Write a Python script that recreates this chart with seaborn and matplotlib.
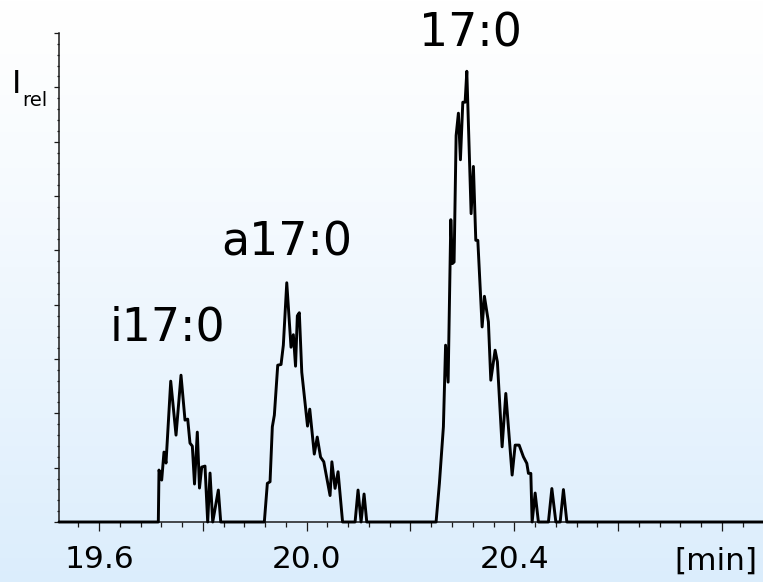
import numpy as np
import pandas as pd
import matplotlib
matplotlib.use("Agg")
import matplotlib.pyplot as plt
from matplotlib.ticker import FixedLocator, MultipleLocator, NullFormatter
import seaborn as sns

# Retention time [min] and relative intensity of the chromatogram trace
time_min = [
    19.523, 19.7143, 19.7156, 19.7208, 19.7252, 19.7291, 19.7382, 19.7484, 19.7580,
    19.7657, 19.7709, 19.7753, 19.7798, 19.7840, 19.7894, 19.7936, 19.7979, 19.8042,
    19.8094, 19.8139, 19.8191, 19.8299, 19.8345,
    19.9185, 19.9243, 19.9295, 19.9339, 19.9378, 19.9443, 19.9507, 19.9551, 19.9617,
    19.9699, 19.9744, 19.9786, 19.9821, 19.9859, 19.9906, 20.0017, 20.0060, 20.0147,
    20.0204, 20.0268, 20.0330, 20.0451, 20.0486, 20.0547, 20.0605, 20.0692, 20.0933,
    20.0990, 20.1048, 20.1106, 20.1158,
    20.2493, 20.2557, 20.2634, 20.2676, 20.2725, 20.2777, 20.2807, 20.2840, 20.2879,
    20.2923, 20.2962, 20.3008, 20.3052, 20.3085, 20.3168, 20.3212, 20.3258, 20.3297,
    20.3380, 20.3424, 20.3501, 20.3547, 20.3630, 20.3674, 20.3765, 20.3836, 20.3958,
    20.4016, 20.4093, 20.4175, 20.4241, 20.4272, 20.4318, 20.4343, 20.4401, 20.4464,
    20.4657, 20.4723, 20.4800, 20.4883, 20.4946, 20.5012, 20.879,
]
intensity = [
    0.0, 0.0, 0.956, 0.772, 1.287, 1.085, 2.592, 1.599, 2.702,
    1.875, 1.893, 1.452, 1.397, 0.699, 1.654, 0.625, 1.011, 1.029,
    0.0, 0.901, 0.0, 0.588, 0.0,
    0.0, 0.711, 0.741, 1.752, 1.967, 2.886, 2.899, 3.254, 4.403,
    3.217, 3.447, 2.868, 3.796, 3.851, 2.757, 1.765, 2.077, 1.250,
    1.563, 1.195, 1.108, 0.487, 1.108, 0.619, 0.925, 0.0, 0.0,
    0.588, 0.0, 0.515, 0.0,
    0.0, 0.711, 1.752, 3.254, 2.574, 5.564, 4.756, 4.785, 7.114,
    7.524, 6.667, 7.726, 7.726, 8.296, 5.675, 6.544, 5.184, 5.184,
    3.590, 4.154, 3.682, 2.610, 3.162, 2.947, 1.384, 2.366, 0.864,
    1.415, 1.415, 1.200, 1.079, 0.895, 0.895, 0.0, 0.533, 0.0,
    0.0, 0.616, 0.0, 0.0, 0.597, 0.0, 0.0,
]

# Peak annotations: name, retention time, label height
peak_names = ["i17:0", "a17:0", "17:0"]
peak_times = [19.731, 19.9622, 20.3148]
peak_label_y = [3.34, 4.91, 8.75]

# Axis ticks
x_major = [19.6, 19.8, 20.0, 20.2, 20.4, 20.6, 20.8]
x_major_labels = ["19.6", "", "20.0", "", "20.4", "", ""]
x_unit_label = "[min]"
y_label_main = "I"
y_label_sub = "rel"
y_label_level = 8.0

df = pd.DataFrame({"time": time_min, "intensity": intensity})

sns.set_theme(style="white")
plt.rcParams["font.family"] = ["DejaVu Sans"]

W, H, DPI = 763, 582, 100
fig = plt.figure(figsize=(W / DPI, H / DPI), dpi=DPI)

# Soft vertical gradient behind everything
bg = fig.add_axes([0, 0, 1, 1], zorder=-10)
top_c = np.array([1.0, 1.0, 1.0])
bot_c = np.array([0.86, 0.93, 0.99])
ramp = np.linspace(0, 1, 256) ** 1.2
grad = (top_c[None, :] * (1 - ramp[:, None]) + bot_c[None, :] * ramp[:, None])[:, None, :]
bg.imshow(grad, aspect="auto", extent=[0, 1, 0, 1], origin="upper")
bg.set_axis_off()

ax = fig.add_axes([59 / W, 60 / H, 1 - 59 / W, (522 - 33) / H])
ax.set_facecolor("none")

sns.lineplot(data=df, x="time", y="intensity", ax=ax, color="black",
             linewidth=2.1, estimator=None, sort=False, clip_on=False, zorder=3)

ax.set_xlim(19.523, 20.879)
ax.set_ylim(0, 9.0)
ax.set_xlabel("")
ax.set_ylabel("")

for side in ("top", "right"):
    ax.spines[side].set_visible(False)
for side in ("left", "bottom"):
    ax.spines[side].set_color("#1a1a1a")
    ax.spines[side].set_linewidth(1.1)

ax.xaxis.set_major_locator(FixedLocator(x_major))
ax.set_xticklabels(x_major_labels)
ax.xaxis.set_minor_locator(MultipleLocator(0.04))
ax.tick_params(axis="x", which="major", direction="out", length=6.5, width=0.9,
               color="#1a1a1a", labelsize=22.5, pad=10, labelcolor="black", bottom=True)
ax.tick_params(axis="x", which="minor", direction="out", length=3.4, width=0.9,
               color="#1a1a1a", bottom=True)

ax.yaxis.set_major_locator(MultipleLocator(1.0))
ax.yaxis.set_minor_locator(MultipleLocator(0.2))
ax.yaxis.set_major_formatter(NullFormatter())
ax.tick_params(axis="y", which="major", direction="out", length=3.3, width=0.9,
               color="#1a1a1a", left=True)
ax.tick_params(axis="y", which="minor", direction="out", length=1.8, width=0.9,
               color="#1a1a1a", left=True)

for name, t, yl in zip(peak_names, peak_times, peak_label_y):
    ax.text(t, yl, name, ha="center", va="baseline", fontsize=33, color="black")

# Axis annotations
fig.text(757 / W, 1 - 570 / H, x_unit_label, ha="right", va="baseline",
         fontsize=22.5, color="black")
ax.annotate(y_label_main, xy=(0, y_label_level), xycoords=("axes fraction", "data"),
            xytext=(-47, -6), textcoords="offset pixels", ha="left", va="baseline",
            fontsize=23, color="black")
ax.annotate(y_label_sub, xy=(0, y_label_level), xycoords=("axes fraction", "data"),
            xytext=(-37, -4), textcoords="offset pixels", ha="left", va="top",
            fontsize=14, color="black")

fig.savefig("out.png", dpi=DPI)
